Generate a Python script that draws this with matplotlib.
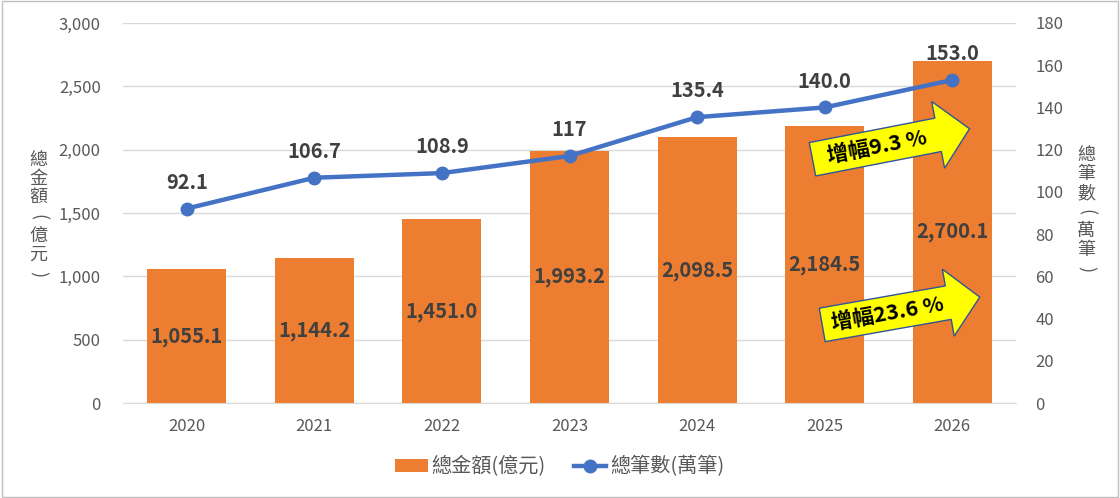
import numpy as np
import matplotlib
matplotlib.use("Agg")
import matplotlib.pyplot as plt
from matplotlib.patches import Polygon, Rectangle
from matplotlib.transforms import Affine2D

plt.rcParams['font.family'] = ['Noto Sans CJK TC', 'DejaVu Sans']

years = ['2020', '2021', '2022', '2023', '2024', '2025', '2026']
amount = [1055.1, 1144.2, 1451.0, 1993.2, 2098.5, 2184.5, 2700.1]
count = [92.1, 106.7, 108.9, 117, 135.4, 140.0, 153.0]
count_labels = ['92.1', '106.7', '108.9', '117', '135.4', '140.0', '153.0']
growth_labels = ['增幅9.3 %', '增幅23.6 %']
left_title = '總金額(億元)'
right_title = '總筆數(萬筆)'

ORANGE = '#ED7D31'
BLUE = '#4472C4'
GRAY = '#595959'
DARK = '#404040'

W, H = 1120, 498
fig = plt.figure(figsize=(W / 100, H / 100), dpi=100)
ax = fig.add_axes([123 / W, 1 - 403 / H, (1016 - 123) / W, (403 - 23) / H])
ax2 = ax.twinx()

x = np.arange(len(years))
bars = ax.bar(x, amount, width=0.62, color=ORANGE, zorder=2, label=left_title)
ax.set_xlim(-0.5, len(years) - 0.5)
ax.set_ylim(0, 3000)
ax.set_yticks(np.arange(0, 3001, 500))
ax.set_yticklabels([f'{v:,}' for v in range(0, 3001, 500)])
ax.set_xticks(x)
ax.set_xticklabels(years)
ax.grid(axis='y', color='#D9D9D9', linewidth=1, zorder=0)
ax.set_axisbelow(True)
for s in ax.spines.values():
    s.set_visible(False)
for s in ax2.spines.values():
    s.set_visible(False)
ax.spines['bottom'].set_visible(True)
ax.spines['bottom'].set_color('#D9D9D9')
ax.tick_params(axis='both', length=0, labelsize=12, labelcolor=GRAY)
ax.tick_params(axis='y', pad=16)
ax.tick_params(axis='x', pad=11)

for xi, v in zip(x, amount):
    ax.text(xi, v / 2, f'{v:,.1f}', ha='center', va='center', fontsize=14.5,
            fontweight='bold', color=DARK, zorder=4)

line, = ax2.plot(x, count, color=BLUE, linewidth=3.2, marker='o', markersize=9,
                 zorder=5, label=right_title)
ax2.set_ylim(0, 180)
ax2.set_yticks(np.arange(0, 181, 20))
ax2.tick_params(axis='y', length=0, labelsize=12, labelcolor=GRAY, pad=14)
for xi, v, lab in zip(x, count, count_labels):
    ax2.annotate(lab, (xi, v), xytext=(0, 19), textcoords='offset points',
                 ha='center', va='center', fontsize=14.5, fontweight='bold', color=DARK)

ax.set_zorder(1)
ax2.set_zorder(2)
ax2.patch.set_visible(False)

# vertical stacked axis titles, brackets turned sideways
def stacked_title(px, py_center, text, step=19):
    n = len(text)
    y0 = py_center - step * (n - 1) / 2
    for i, ch in enumerate(text):
        rot = -90 if ch in '()' else 0
        fig.text(px / W, 1 - (y0 + i * step) / H, ch, ha='center', va='center',
                 fontsize=13, color=GRAY, rotation=rot)

stacked_title(38, 217, left_title)
stacked_title(1086, 212, right_title)

# growth arrows (pixel coords, y down in image)
def growth_arrow(cx, cy, angle, label):
    L, bh, hw, hl = 160, 34, 68, 32
    pts = [(-L / 2, -bh / 2), (L / 2 - hl, -bh / 2), (L / 2 - hl, -hw / 2),
           (L / 2, 0), (L / 2 - hl, hw / 2), (L / 2 - hl, bh / 2), (-L / 2, bh / 2)]
    tr = Affine2D().rotate_deg(angle).translate(cx, H - cy).scale(1 / W, 1 / H) + fig.transFigure
    fig.patches.append(Polygon(pts, closed=True, facecolor='#FFFF00', edgecolor='#2F5597',
                               linewidth=1, transform=tr, zorder=10))
    tx, ty = Affine2D().rotate_deg(angle).transform((-14, 0))
    fig.text((cx + tx) / W, (H - cy + ty) / H, label, rotation=angle, rotation_mode='anchor',
             ha='center', va='center', fontsize=15.5, fontweight='bold', color='black', zorder=11)

growth_arrow(891, 144, 11, growth_labels[0])
growth_arrow(901, 311, 10, growth_labels[1])

leg = fig.legend(handles=[bars, line], loc='center', bbox_to_anchor=(0.5, 1 - 467 / H),
                 ncol=2, frameon=False, fontsize=14.5, handlelength=1.6, columnspacing=1.4,
                 handletextpad=0.2, handleheight=0.55)
for t in leg.get_texts():
    t.set_color(GRAY)

fig.patches.append(Rectangle((0.002, 0.003), 0.996, 0.994, transform=fig.transFigure,
                             fill=False, edgecolor='#BFBFBF', linewidth=1))

fig.savefig('out.png', dpi=100)
